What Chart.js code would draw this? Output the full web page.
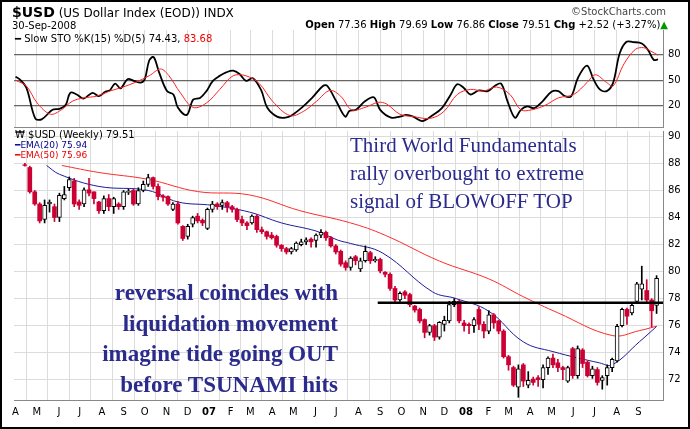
<!DOCTYPE html>
<html><head><meta charset="utf-8">
<script src="https://cdn.jsdelivr.net/npm/chart.js@4"></script>
<style>
body{margin:0;background:#fff;width:690px;height:429px;overflow:hidden;font-family:"DejaVu Sans",sans-serif}
#frame{position:absolute;left:0;top:0;width:686px;height:425px;border:2px solid #000}
.t{position:absolute;white-space:nowrap;color:#000}
canvas{position:absolute;left:0}
.ann{position:absolute;font-family:"Liberation Serif","DejaVu Serif",serif;font-weight:bold;color:#2b2b8c;white-space:nowrap}
</style></head><body>
<canvas id="sto" style="top:0" width="690" height="138"></canvas>
<canvas id="px" style="top:120px" width="690" height="304"></canvas>
<div id="frame"></div>
<div class="t" style="left:12px;top:4px;font-size:12px"><b style="font-size:14px">$USD</b> (US Dollar Index (EOD)) INDX</div>
<div class="t" style="left:12px;top:20px;font-size:10px">30-Sep-2008</div>
<div class="t" style="right:24px;top:6px;font-size:10px;color:#444">©StockCharts.com</div>
<div class="t" style="right:22px;top:19px;font-size:10px"><b>Open</b> 77.36 <b>High</b> 79.69 <b>Low</b> 76.86 <b>Close</b> 79.51 <b>Chg</b> +2.52 (+3.27%)<span style="color:#090">▲</span></div>
<div class="t" style="left:15px;top:33px;font-size:10px"><b>━</b> Slow STO %K(15) %D(5) 74.43, <span style="color:#e00">83.68</span></div>
<div class="t" style="left:15px;top:129px;font-size:10px">₩ $USD (Weekly) 79.51</div>
<div class="t" style="left:15px;top:140px;font-size:9px;color:#00008b"><b>━</b>EMA(20) 75.94</div>
<div class="t" style="left:15px;top:150px;font-size:9px;color:#e00"><b>━</b>EMA(50) 75.96</div>
<div class="ann" style="left:350px;top:131px;font-size:21px;line-height:28px;font-weight:normal">Third World Fundamentals<br>rally overbought to extreme<br>signal of BLOWOFF TOP</div>
<div class="ann" style="right:352px;top:278px;font-size:23px;line-height:30.5px;text-align:right">reversal coincides with<br>liquidation movement<br>imagine tide going OUT<br>before TSUNAMI hits</div>
<script>
// weekly candles [open, high, low, close], week 0 = mid-Apr 2006
const ohlc = [
[87.9,88.0,87.8,87.85],[87.7,87.8,85.8,85.9],[85.9,86.0,84.9,85.0],[85.0,85.1,83.6,83.75],[83.85,85.3,83.6,84.9],
[85.0,85.3,84.4,85.15],[84.8,85.0,83.7,84.0],[84.0,85.8,83.7,85.65],[85.4,86.3,85.3,85.7],[86.2,87.0,86.0,86.8],
[86.7,86.9,84.8,85.0],[85.15,85.3,84.6,84.9],[85.0,86.2,84.8,86.05],[86.05,86.9,85.6,85.8],[85.9,85.9,85.0,85.4],
[85.15,85.2,84.3,84.5],[84.5,85.6,84.3,85.4],[85.4,85.7,84.5,84.8],[84.8,85.5,84.3,85.4],[85.0,85.1,84.6,84.8],
[84.8,86.0,84.6,85.9],[85.85,86.1,85.7,85.95],[86.0,86.1,84.9,85.0],[85.0,86.2,84.9,86.0],[86.0,86.7,85.9,86.45],
[86.45,87.2,86.3,86.95],[86.95,87.0,86.1,86.3],[86.3,86.5,85.3,85.55],[85.6,85.7,85.2,85.5],[85.55,85.6,84.9,85.0],
[84.6,85.1,84.5,85.0],[85.0,85.2,83.5,83.6],[83.35,83.4,82.3,82.45],[82.6,83.5,82.4,83.35],[83.5,84.1,83.3,84.0],
[84.1,84.3,83.6,83.75],[83.8,83.9,83.4,83.6],[83.2,84.7,83.1,84.6],[84.6,85.2,84.4,85.0],[85.0,85.1,84.6,84.8],
[84.9,85.3,84.6,85.1],[85.1,85.2,84.4,84.8],[84.8,84.9,84.4,84.6],[84.6,84.7,83.7,83.85],[83.85,84.1,83.4,83.6],
[83.6,83.7,83.1,83.4],[83.6,84.2,83.5,84.1],[84.1,84.2,82.9,83.1],[83.1,83.3,82.8,82.95],[82.95,83.0,82.4,82.6],
[82.7,82.9,82.4,82.5],[82.6,82.7,81.8,81.95],[81.95,82.0,81.5,81.7],[81.7,81.8,81.3,81.45],[81.45,81.8,81.3,81.7],
[81.6,82.2,81.5,82.1],[82.0,82.4,81.9,82.2],[82.2,82.5,82.0,82.35],[82.4,82.5,81.8,82.2],[82.3,82.8,81.8,82.7],
[82.7,83.1,82.5,82.9],[82.9,83.0,82.3,82.5],[82.5,82.6,81.8,81.9],[81.9,82.0,81.3,81.45],[81.5,81.6,80.4,80.55],
[80.66,80.8,80.1,80.3],[80.3,81.1,80.1,81.0],[81.1,81.2,80.5,80.8],[80.2,81.0,80.0,80.8],[80.8,81.9,80.7,81.5],
[81.4,81.5,80.6,80.8],[80.8,81.1,80.7,80.9],[80.9,81.0,79.9,80.05],[79.95,80.0,79.6,79.8],[79.8,79.9,78.6,78.75],
[78.75,78.9,77.7,77.9],[77.9,78.5,77.8,78.4],[78.5,78.6,78.0,78.25],[78.3,78.4,77.4,77.55],[77.45,77.5,77.0,77.15],
[77.2,77.3,76.2,76.35],[76.45,76.5,75.1,75.5],[75.5,76.1,75.3,76.0],[76.0,76.1,74.9,75.15],[75.15,76.3,75.0,76.25],
[76.1,76.7,75.6,76.4],[76.35,77.8,76.2,77.55],[77.55,78.0,77.4,77.8],[77.8,77.9,76.2,76.35],[76.2,76.4,75.6,76.0],
[76.1,76.2,75.4,76.0],[76.0,76.6,75.5,76.45],[77.2,77.4,75.7,76.1],[76.1,76.3,75.1,75.6],[75.6,77.1,75.4,76.8],
[76.8,76.9,75.8,76.2],[76.35,76.4,75.4,75.6],[75.6,75.7,73.6,73.7],[73.7,73.8,72.7,73.1],[72.9,73.0,71.5,71.6],
[71.45,73.1,70.7,72.8],[73.1,73.2,71.5,71.9],[71.6,72.6,71.4,71.95],[72.05,72.2,71.6,71.8],[72.15,72.3,71.5,72.0],
[72.0,73.1,71.4,72.9],[72.9,73.7,72.4,73.6],[73.6,73.9,72.9,73.1],[73.25,73.5,72.6,72.9],[72.9,73.0,72.0,72.75],
[71.9,73.0,71.8,72.9],[74.3,74.4,72.1,72.3],[72.3,74.5,72.1,74.3],[74.2,74.3,72.9,73.2],[73.3,73.4,72.2,72.3],
[72.3,73.0,72.1,72.8],[72.75,72.9,71.6,71.8],[71.95,72.3,71.3,72.15],[72.3,73.1,71.6,72.9],[72.9,73.6,72.6,73.5],
[73.4,76.1,73.3,75.95],[76.0,77.3,75.9,77.2],[77.2,77.3,76.1,76.7],[76.95,77.7,76.8,77.5],[77.8,79.2,77.7,79.1],
[78.7,80.4,77.9,79.1],[78.6,79.4,77.7,77.9],[77.9,78.0,75.9,77.1],[77.5,79.7,76.9,79.5]
];
const ema20 = [[4.4,87.85],[7,87.2],[15,86.3],[25,86.0],[31,85.15],[38,84.9],[45.5,84.4],[52,83.6],[59,83.0],[63.4,82.33],[66,82.08],[72.5,81.37],[82.6,78.5],[87.4,78.0],[94,77.07],[101,74.8],[107,74.08],[116.5,73.24],[119,73.1],[124.5,74.8],[128,75.94]];
const ema50 = [[7.5,87.85],[15,87.33],[25,86.82],[35,85.92],[45.5,85.67],[55.7,84.51],[65.8,83.62],[73,82.69],[84,80.78],[94,79.46],[101,78.14],[108,76.95],[119,75.27],[124.5,75.63],[128,75.96]];
const resistance = [[71.5,77.7],[129.3,77.7]];
const stoK = [[-1.9,54],[-1.1,51.2],[0.3,41.2],[2.1,5.2],[3.4,4],[5.6,15.2],[7,16.4],[8.3,21.2],[9.2,35.2],[10.5,33.2],[11.9,28.4],[13.7,35.2],[15,31.2],[16.3,36.4],[17.2,38],[18.3,46],[19.4,40.4],[20.8,51.2],[22.1,49.2],[23.5,47.2],[24.3,51.2],[25.2,73.2],[26.1,77.2],[27.2,59.2],[28.8,37.2],[30.1,33.2],[31,18],[32.8,9.2],[34.1,27.2],[35.5,29.2],[36.8,37.2],[38.1,49.2],[39.5,55.2],[40.8,59.2],[42.2,61.2],[43.5,57.2],[44.8,49.2],[46.2,52.4],[47.9,38],[49.1,18],[51.1,7.2],[52.8,6],[54.2,9.2],[56,17.2],[58.2,29.2],[60.4,43.2],[61.3,43.2],[63.1,25.2],[64.9,7.2],[65.8,14],[67.1,15.2],[68.9,25.2],[70.7,30],[72,15.2],[74.2,6],[76,7.2],[77.3,9.2],[78.7,7.2],[80.5,2],[82.7,9.2],[84.5,17.2],[86.3,33.2],[87.6,45.2],[88.9,41.2],[90.3,33.2],[92,38],[93.8,37.2],[95.2,43.2],[96.5,46],[97.8,25.2],[99.3,6],[100.5,15.2],[101.8,19.2],[103.2,17.2],[104.9,25.2],[106.7,36.4],[108.1,37.2],[109.4,31.2],[110.7,31.2],[112.1,53.2],[113.9,67.2],[115.2,51.2],[116.5,39.2],[117.9,37.2],[119.2,47.2],[120.5,81.2],[121.9,95.2],[123.2,94.8],[125,93.2],[126.3,85.2],[127.4,74],[128.3,74.4]];
const stoD = [[-1.9,50],[0.3,43.2],[2.5,23.2],[5.2,10],[7.4,15.2],[9.6,25.2],[11.9,29.2],[14.5,31.2],[17.2,37.2],[19.9,42],[22.6,48],[25.2,55.2],[27.5,63.2],[29.2,55.2],[31.5,35.2],[34.1,18],[36.8,23.2],[39.5,39.2],[42.2,55.2],[44.8,55.2],[47.5,46],[50.2,25.2],[53.7,8.4],[56.4,13.2],[59.1,25.2],[61.8,38],[64,31.2],[66.2,15.2],[68.9,18],[71.6,24],[73.3,22],[76,10],[78.7,7.2],[82.2,5.2],[84.9,13.2],[87.6,33.2],[90.3,39.2],[92.9,37.2],[95.6,42],[98.3,33.2],[100.5,15.2],[102.7,15.2],[105.4,20.4],[108.1,29.2],[111.2,33.2],[113.9,47.2],[115.6,56.4],[117.9,47.2],[119.2,43.2],[121.4,69.2],[123.7,86.2],[125.4,88.2],[126.8,84.2],[128.3,79.4]];
const monthPos = [-1.9,2.4,6.9,11.1,15.6,20,24.3,28.7,33,37.3,41.7,45.7,50.1,54.4,58.9,63.1,67.6,72,76.3,80.7,85,89.4,93.9,98,102.4,106.7,111.1,115.4,119.9,124.3];
const monthLbl = ['A','M','J','J','A','S','O','N','D','07','F','M','A','M','J','J','A','S','O','N','D','08','F','M','A','M','J','J','A','S'];
const priceTicks = [72,74,76,78,80,82,84,86,88,90];
const stoTicks = [20,50,80];

const XMIN=-2.2, XMAX=129.3;
const RED='#cc0033';
const pts = a => a.map(p=>({x:p[0],y:p[1]}));
function xScale(showTicks){
  return {type:'linear',min:XMIN,max:XMAX,offset:false,
    afterBuildTicks:s=>{s.ticks=monthPos.map(v=>({value:v}));},
    afterFit:s=>{ if(!showTicks) s.height=0; else s.height=22; },
    grid:{color:'#dcdcdc',drawTicks:false},border:{color:'#888'},
    ticks:{display:showTicks,autoSkip:false,maxRotation:0,padding:6,color:'#000',
      callback:(v,i)=>monthLbl[i],
      font:c=>({family:'DejaVu Sans',size:10,weight:(c.tick&&(c.index===9||c.index===21))?'bold':'normal'})}};
}
function yScale(min,max,ticks,extra){
  return Object.assign({position:'right',min:min,max:max,
    afterBuildTicks:s=>{s.ticks=ticks.map(v=>({value:v}));},
    afterFit:s=>{s.width=27;},
    grid:{color:'#dcdcdc',drawTicks:false},border:{color:'#888'},
    ticks:{color:'#000',padding:5,font:{family:'DejaVu Sans',size:10}}},extra||{});
}

new Chart(document.getElementById('sto'),{
  type:'line',
  data:{datasets:[
    {data:pts(stoD),borderColor:'#ff2020',borderWidth:1,pointRadius:0,tension:0.35},
    {data:pts(stoK),borderColor:'#000',borderWidth:1.8,pointRadius:0,tension:0.35}
  ]},
  options:{responsive:false,animation:false,layout:{padding:{left:14,top:30,right:0,bottom:2}},
    plugins:{legend:{display:false},tooltip:{enabled:false}},
    scales:{x:xScale(false),y:yScale(-5,109,stoTicks,{grid:{drawTicks:false,
      color:'#666',lineWidth:1.2,
      borderDash:c=>c.tick&&c.tick.value===50?[6,3,2,3]:[]}})}}
});

const wickR=[],wickW=[],bodyR=[],bodyW=[];
ohlc.forEach((c,i)=>{
  const up=c[3]>c[0];
  (up?wickW:wickR).push({x:i,y:[c[2],c[1]]});
  (up?bodyW:bodyR).push({x:i,y:[Math.min(c[0],c[3]),Math.max(c[0],c[3])]});
});
new Chart(document.getElementById('px'),{
  type:'bar',
  data:{datasets:[
    {type:'line',data:pts(ema50),borderColor:'#ff2a2a',borderWidth:1,pointRadius:0,tension:0.4,order:5},
    {type:'line',data:pts(ema20),borderColor:'#1c1c9c',borderWidth:1,pointRadius:0,tension:0.4,order:4},
    {data:wickR,backgroundColor:RED,barThickness:1,grouped:false,order:3},
    {data:wickW,backgroundColor:'#000',barThickness:1,grouped:false,order:3},
    {data:bodyR,backgroundColor:RED,borderColor:RED,borderWidth:0,barThickness:4,grouped:false,order:2},
    {data:bodyW,backgroundColor:'#fff',borderColor:'#000',borderWidth:1,borderSkipped:false,barThickness:4,grouped:false,order:2},
    {type:'line',data:pts(resistance),borderColor:'#000',borderWidth:2.5,pointRadius:0,order:1}
  ]},
  options:{responsive:false,animation:false,layout:{padding:{left:14,top:2,right:0,bottom:2}},
    plugins:{legend:{display:false},tooltip:{enabled:false}},
    scales:{x:xScale(true),y:yScale(70.5,90.4,priceTicks)}}
});
</script>
</body></html>
